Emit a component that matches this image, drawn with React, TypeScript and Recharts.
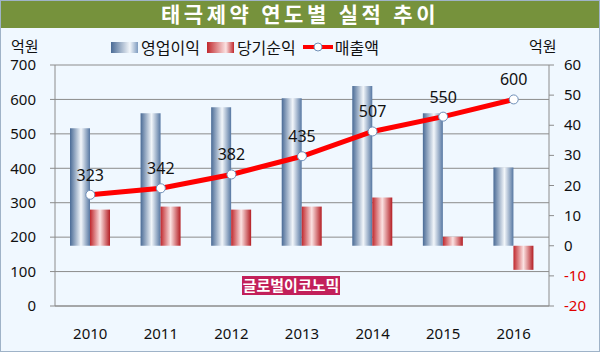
import {
  ComposedChart,
  Bar,
  Line,
  XAxis,
  YAxis,
  CartesianGrid,
  LabelList,
} from "recharts";

const years = ["2010", "2011", "2012", "2013", "2014", "2015", "2016"];
const operatingProfit = [39, 44, 46, 49, 53, 44, 26];
const netProfit = [12, 13, 12, 13, 16, 3, -8];
const sales = [323, 342, 382, 435, 507, 550, 600];

const leftTicks = [0, 100, 200, 300, 400, 500, 600, 700];
const rightTicks = [-20, -10, 0, 10, 20, 30, 40, 50, 60];
const edgeTicks = [0, 1, 2, 3, 4, 5, 6, 7];

const data = years.map((year, i) => ({
  year,
  op: operatingProfit[i],
  net: netProfit[i],
  sales: sales[i],
}));

const FONT = "'Noto Sans', 'Noto Sans CJK KR', sans-serif";
const GRID = "#8c8c8c";

const RightTick = (props: any) => {
  const { x, y, payload } = props;
  return (
    <text
      x={x}
      y={y}
      dy={5}
      textAnchor="start"
      fontSize={15}
      fontFamily={FONT}
      fill={payload.value < 0 ? "#e00000" : "#111"}
    >
      {payload.value}
    </text>
  );
};

export default function App() {
  return (
    <div
      style={{
        position: "absolute",
        left: 0,
        top: 0,
        width: 598,
        height: 350,
        border: "1px solid #9fb3c8",
        background: "#f0f8ff",
        fontFamily: FONT,
        overflow: "hidden",
      }}
    >
      <div
        style={{
          height: 27,
          background: "#76923c",
          color: "#fff",
          fontWeight: "bold",
          fontSize: 21,
          letterSpacing: 3.5,
          textAlign: "center",
          lineHeight: "27px",
        }}
      >
        태극제약 연도별 실적 추이
      </div>

      <div style={{ position: "absolute", left: 10, top: 34, fontSize: 15, color: "#111" }}>억원</div>
      <div style={{ position: "absolute", left: 528, top: 34, fontSize: 15, color: "#111" }}>억원</div>

      <div
        style={{
          position: "absolute",
          left: 110,
          top: 34,
          display: "flex",
          alignItems: "center",
          fontSize: 16,
          color: "#111",
        }}
      >
        <span
          style={{
            width: 27,
            height: 11,
            background: "linear-gradient(90deg, #4a6b96, #f2f6fa 70%, #7f9cc0)",
            marginRight: 3,
          }}
        />
        <span style={{ marginRight: 7 }}>영업이익</span>
        <span
          style={{
            width: 27,
            height: 11,
            background: "linear-gradient(90deg, #c0282d, #fbe2e2 70%, #c0282d)",
            marginRight: 3,
          }}
        />
        <span style={{ marginRight: 7 }}>당기순익</span>
        <svg width={30} height={12} style={{ marginRight: 2 }}>
          <line x1={0} y1={6} x2={30} y2={6} stroke="#ff0000" strokeWidth={4} />
          <circle cx={15} cy={6} r={4} fill="#fff" stroke="#6f8fb8" strokeWidth={1} />
        </svg>
        <span>매출액</span>
      </div>

      <div style={{ position: "absolute", left: 0, top: 0 }}>
        <ComposedChart
          width={600}
          height={352}
          data={data}
          margin={{ top: 64, right: 0, bottom: 0, left: 0 }}
          barGap={0}
        >
          <defs>
            <linearGradient id="blueBar" x1="0" y1="0" x2="1" y2="0">
              <stop offset="0%" stopColor="#4a6b96" />
              <stop offset="55%" stopColor="#f2f6fa" />
              <stop offset="100%" stopColor="#5677a2" />
            </linearGradient>
            <linearGradient id="redBar" x1="0" y1="0" x2="1" y2="0">
              <stop offset="0%" stopColor="#c0282d" />
              <stop offset="50%" stopColor="#fbe2e2" />
              <stop offset="100%" stopColor="#b41e24" />
            </linearGradient>
          </defs>

          <CartesianGrid
            yAxisId="left"
            xAxisId="cat"
            vertical={false}
            stroke={GRID}
            strokeWidth={1}
          />

          <XAxis
            xAxisId="edge"
            type="number"
            domain={[0, 7]}
            ticks={edgeTicks}
            tickFormatter={() => ""}
            tickSize={5}
            tickLine={{ stroke: GRID }}
            axisLine={false}
            height={0}
          />
          <XAxis
            xAxisId="cat"
            dataKey="year"
            tickLine={false}
            tickSize={0}
            tickMargin={22}
            axisLine={{ stroke: GRID }}
            height={47}
            tick={{ fontSize: 15, fill: "#111", fontFamily: FONT }}
          />

          <YAxis
            yAxisId="left"
            orientation="left"
            domain={[0, 700]}
            ticks={leftTicks}
            width={54}
            tickSize={5}
            tickMargin={14}
            axisLine={{ stroke: GRID }}
            tickLine={{ stroke: GRID }}
            tick={{ fontSize: 15, fill: "#111", fontFamily: FONT }}
          />
          <YAxis
            yAxisId="right"
            orientation="right"
            domain={[-20, 60]}
            ticks={rightTicks}
            width={52}
            tickSize={5}
            tickMargin={10}
            axisLine={{ stroke: GRID }}
            tickLine={{ stroke: GRID }}
            tick={<RightTick />}
          />

          <Bar
            dataKey="op"
            xAxisId="cat"
            yAxisId="right"
            fill="url(#blueBar)"
            barSize={20}
            isAnimationActive={false}
          />
          <Bar
            dataKey="net"
            xAxisId="cat"
            yAxisId="right"
            fill="url(#redBar)"
            barSize={20}
            isAnimationActive={false}
          />
          <Line
            dataKey="sales"
            xAxisId="cat"
            yAxisId="left"
            stroke="#ff0000"
            strokeWidth={5}
            dot={{ r: 4.5, fill: "#fff", stroke: "#6f8fb8", strokeWidth: 1 }}
            isAnimationActive={false}
          >
            <LabelList
              dataKey="sales"
              position="top"
              offset={14}
              fontSize={16}
              fill="#111"
              fontFamily={FONT}
            />
          </Line>
        </ComposedChart>
      </div>

      <div
        style={{
          position: "absolute",
          left: 241,
          top: 275,
          width: 98,
          height: 19,
          background: "#c2205a",
          color: "#fff",
          fontWeight: "bold",
          fontSize: 15,
          lineHeight: "19px",
          textAlign: "center",
        }}
      >
        글로벌이코노믹
      </div>
    </div>
  );
}
